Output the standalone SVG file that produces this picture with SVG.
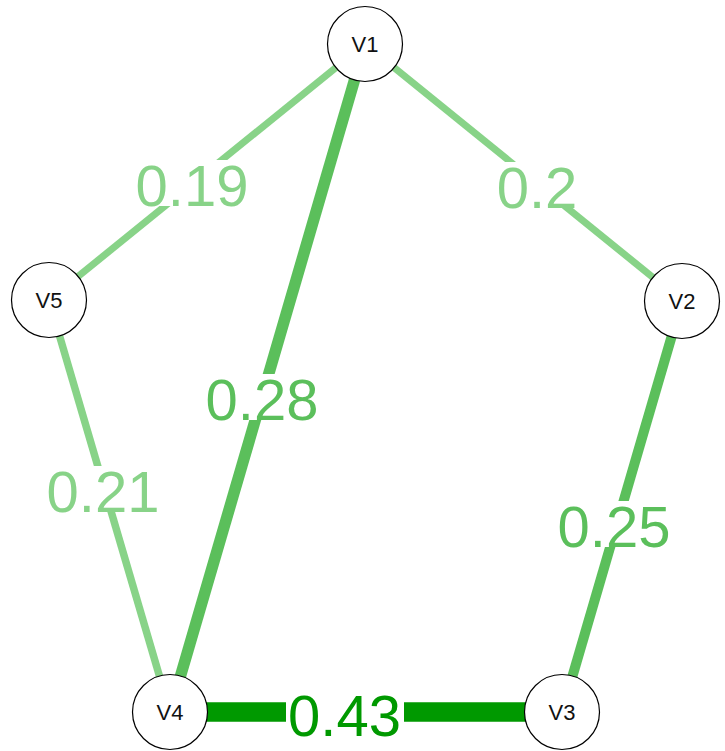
<svg xmlns="http://www.w3.org/2000/svg" width="725" height="751" viewBox="0 0 725 751">
<style>
.e{fill:none;stroke-linecap:butt}
.lt{stroke:#88d388}
.md{stroke:#5bbf5b}
.dk{stroke:#009900}
.bg{fill:#ffffff}
.el{font-family:"Liberation Sans",Arial,sans-serif;font-size:58px;text-anchor:middle}
.tlt{fill:#88d388}
.tmd{fill:#5bbf5b}
.tdk{fill:#009900}
.nc{fill:#ffffff;stroke:#000000;stroke-width:1.2}
.nl{font-family:"Liberation Sans",Arial,sans-serif;font-size:22px;text-anchor:middle;fill:#111111}
</style>
<rect width="725" height="751" fill="#ffffff"/>
<g id="connectors">
<line class="e lt" x1="365" y1="44" x2="49" y2="300" stroke-width="7"/>
<line class="e lt" x1="365" y1="44" x2="682" y2="301" stroke-width="7"/>
<line class="e md" x1="365" y1="44" x2="170" y2="712" stroke-width="11.5"/>
<line class="e lt" x1="49" y1="300" x2="170" y2="712" stroke-width="7.5"/>
<line class="e md" x1="682" y1="301" x2="562" y2="712" stroke-width="10"/>
<line class="e dk" x1="170" y1="712" x2="562" y2="712" stroke-width="19.5"/>
<rect class="bg" x="132" y="160" width="120" height="46"/>
<text class="el tlt" x="192" y="206">0.19</text>
<rect class="bg" x="494" y="162" width="86" height="46"/>
<text class="el tlt" x="537" y="208">0.2</text>
<rect class="bg" x="202" y="374" width="120" height="46"/>
<text class="el tmd" x="262" y="420">0.28</text>
<rect class="bg" x="43" y="466" width="120" height="45"/>
<text class="el tlt" x="103" y="512">0.21</text>
<rect class="bg" x="554" y="501" width="120" height="46"/>
<text class="el tmd" x="614" y="547">0.25</text>
<rect class="bg" x="286" y="690" width="118" height="46"/>
<text class="el tdk" x="344.5" y="736">0.43</text>
</g>
<g id="V1"><circle class="nc" cx="365" cy="44" r="37.5"/><text class="nl" x="365" y="52">V1</text></g>
<g id="V2"><circle class="nc" cx="682" cy="301" r="37.5"/><text class="nl" x="682" y="309">V2</text></g>
<g id="V3"><circle class="nc" cx="562" cy="712" r="37.5"/><text class="nl" x="562" y="720">V3</text></g>
<g id="V4"><circle class="nc" cx="170" cy="712" r="37.5"/><text class="nl" x="170" y="720">V4</text></g>
<g id="V5"><circle class="nc" cx="49" cy="300" r="37.5"/><text class="nl" x="49" y="308">V5</text></g>
</svg>
